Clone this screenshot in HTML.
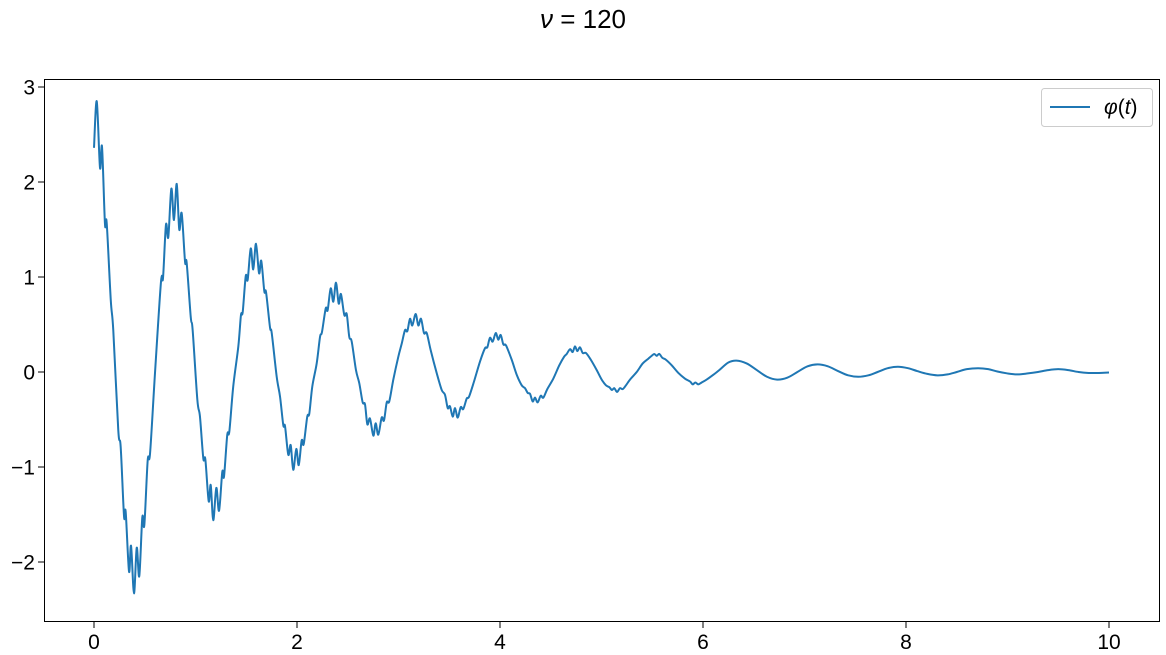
<!DOCTYPE html>
<html><head><meta charset="utf-8"><style>
html,body{margin:0;padding:0;background:#fff;}
svg{display:block;font-family:"Liberation Sans","DejaVu Sans",sans-serif;}
</style></head><body>
<svg id="chart" width="1166" height="655" viewBox="0 0 1166 655">
<text x="583" y="28" text-anchor="middle" font-size="26" fill="#000"><tspan font-style="italic">ν</tspan> = 120</text>
<g id="grid"></g>
<rect x="44.5" y="79.5" width="1115" height="542" fill="none" stroke="#000" stroke-width="1"/>
<g>
<rect x="1041.5" y="88.5" width="111" height="38" rx="3" fill="#fff" stroke="#ccc"/>
<line x1="1050" y1="107" x2="1090" y2="107" stroke="#1f77b4" stroke-width="2"/>
<text x="1104" y="114" font-size="21"><tspan font-style="italic">φ</tspan>(<tspan font-style="italic">t</tspan>)</text>
</g>
</svg>
<script>
const tVals=[0,.027,.059,.079,.108,.125,.165,.190,.239,.263,.296,.312,.345,.365,.394,.421,.446,.476,.496,.529,.552,.601,.660,.680,.709,.732,.762,.788,.815,.840,.864,.897,.913,.953,.972,1.018,1.044,1.077,1.097,1.130,1.150,1.175,1.205,1.232,1.264,1.281,1.313,1.333,1.372,1.422,1.448,1.465,1.495,1.514,1.544,1.569,1.596,1.626,1.648,1.678,1.695,1.734,1.751,1.800,1.833,1.865,1.882,1.914,1.938,1.963,1.993,2.017,2.046,2.066,2.101,2.121,2.151,2.194,2.227,2.246,2.283,2.302,2.332,2.358,2.384,2.411,2.433,2.466,2.490,2.515,2.539,2.581,2.614,2.647,2.670,2.693,2.719,2.752,2.775,2.801,2.834,2.857,2.884,2.909,2.949,2.998,3.032,3.064,3.087,3.113,3.136,3.169,3.195,3.222,3.251,3.278,3.317,3.376,3.426,3.458,3.485,3.507,3.534,3.557,3.583,3.613,3.638,3.672,3.695,3.744,3.803,3.852,3.875,3.901,3.928,3.958,3.983,4.007,4.033,4.059,4.115,4.165,4.214,4.246,4.273,4.296,4.322,4.345,4.371,4.401,4.427,4.466,4.525,4.584,4.631,4.657,4.690,4.716,4.739,4.762,4.788,4.815,4.847,4.894,4.953,5.002,5.044,5.077,5.103,5.126,5.153,5.182,5.209,5.241,5.281,5.347,5.406,5.461,5.494,5.520,5.544,5.569,5.599,5.633,5.692,5.757,5.823,5.872,5.899,5.924,5.954,5.987,6.036,6.101,6.160,6.25,6.33,6.43,6.53,6.63,6.73,6.83,6.93,7.03,7.13,7.23,7.33,7.43,7.53,7.63,7.72,7.82,7.92,8.02,8.11,8.21,8.31,8.41,8.5,8.6,8.71,8.81,8.9,9.0,9.1,9.2,9.3,9.4,9.5,9.6,9.7,9.8,9.9,10];
const phiVals=[2.36,2.85,2.15,2.37,1.56,1.57,0.76,0.44,-0.61,-0.79,-1.52,-1.47,-2.10,-1.83,-2.33,-1.85,-2.15,-1.53,-1.61,-0.93,-0.86,-0.01,0.95,0.99,1.55,1.42,1.93,1.60,1.98,1.50,1.67,1.16,1.15,0.58,0.44,-0.29,-0.47,-0.91,-0.92,-1.36,-1.19,-1.56,-1.22,-1.46,-1.05,-1.10,-0.66,-0.63,-0.15,0.27,0.60,0.63,1.01,0.97,1.30,1.08,1.35,1.04,1.17,0.85,0.84,0.47,0.41,-0.05,-0.26,-0.56,-0.57,-0.87,-0.77,-1.03,-0.81,-0.98,-0.72,-0.76,-0.47,-0.44,-0.15,0.09,0.37,0.42,0.67,0.65,0.88,0.74,0.94,0.72,0.82,0.60,0.61,0.37,0.32,0.02,-0.12,-0.32,-0.34,-0.55,-0.49,-0.67,-0.54,-0.66,-0.48,-0.51,-0.32,-0.31,-0.08,0.16,0.30,0.44,0.43,0.56,0.49,0.61,0.49,0.56,0.41,0.41,0.23,-0.01,-0.19,-0.24,-0.38,-0.36,-0.47,-0.38,-0.48,-0.37,-0.39,-0.28,-0.26,-0.10,0.11,0.25,0.26,0.36,0.32,0.41,0.34,0.39,0.29,0.28,0.13,-0.03,-0.14,-0.17,-0.22,-0.23,-0.31,-0.27,-0.32,-0.25,-0.27,-0.18,-0.07,0.07,0.16,0.19,0.24,0.21,0.27,0.22,0.26,0.20,0.20,0.13,0.02,-0.08,-0.14,-0.16,-0.19,-0.17,-0.21,-0.17,-0.18,-0.14,-0.08,0.00,0.09,0.14,0.17,0.19,0.17,0.19,0.15,0.13,0.07,-0.01,-0.07,-0.10,-0.13,-0.11,-0.13,-0.11,-0.08,-0.03,0.02,0.10,0.12,0.09,0.02,-0.05,-0.08,-0.06,0.0,0.06,0.08,0.06,0.01,-0.035,-0.05,-0.035,0,0.04,0.055,0.04,0.01,-0.02,-0.035,-0.025,0,0.03,0.04,0.03,0.005,-0.015,-0.025,-0.015,0,0.02,0.03,0.02,0,-0.01,-0.01,-0.005];
const xTicks=[0,2,4,6,8,10];
const yTicks=[-2,-1,0,1,2,3];

const NS="http://www.w3.org/2000/svg";
const svg=document.getElementById('chart');
const g=document.getElementById('grid');
const xs=t=>94+t*101.5;
const ys=v=>372-v*95;
function mk(tag,attrs,parent){const e=document.createElementNS(NS,tag);for(const k in attrs)e.setAttribute(k,attrs[k]);(parent||g).appendChild(e);return e;}
xTicks.forEach(v=>{
  const l=mk('line',{x1:xs(v),x2:xs(v),y1:622,y2:628,stroke:'#000'});
  
  
  const tx=mk('text',{x:xs(v),y:649,'text-anchor':'middle','font-size':21});
  tx.textContent=String(v);
  
  
});
yTicks.forEach(v=>{
  const l=mk('line',{x1:38,x2:44,y1:ys(v),y2:ys(v),stroke:'#000'});
  
  
  const tx=mk('text',{x:35,y:ys(v)+7.5,'text-anchor':'end','font-size':21});
  tx.textContent=v<0?'\u2212'+Math.abs(v):String(v);
  
  
});
const P=tVals.map((t,i)=>[xs(t),ys(phiVals[i])]);
let d='M'+P[0][0].toFixed(2)+','+P[0][1].toFixed(2);
for(let i=0;i<P.length-1;i++){
  const p0=P[Math.max(i-1,0)],p1=P[i],p2=P[i+1],p3=P[Math.min(i+2,P.length-1)];
  const c1=[p1[0]+(p2[0]-p0[0])/6,p1[1]+(p2[1]-p0[1])/6];
  const c2=[p2[0]-(p3[0]-p1[0])/6,p2[1]-(p3[1]-p1[1])/6];
  d+='C'+c1[0].toFixed(2)+','+c1[1].toFixed(2)+' '+c2[0].toFixed(2)+','+c2[1].toFixed(2)+' '+p2[0].toFixed(2)+','+p2[1].toFixed(2);
}
const path=mk('path',{d:d,fill:'none',stroke:'#1f77b4','stroke-width':2,'stroke-linejoin':'round'},svg);


</script>
</body></html>
